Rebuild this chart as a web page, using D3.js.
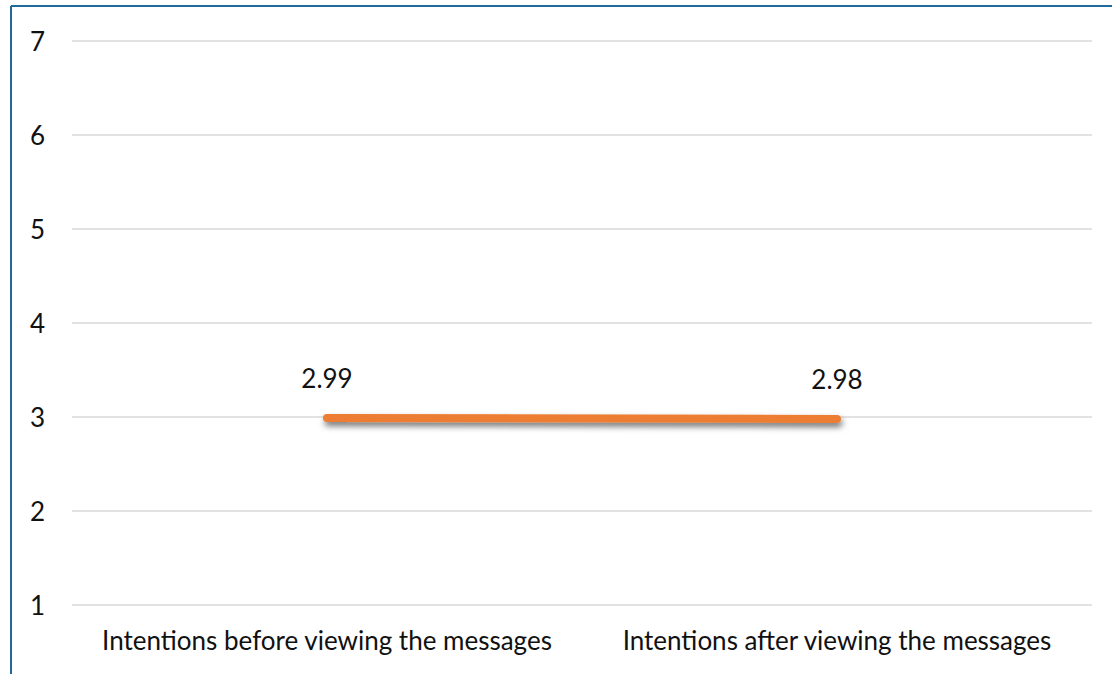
<!DOCTYPE html>
<html>
<head>
<meta charset="utf-8">
<script src="https://cdn.jsdelivr.net/npm/d3@7"></script>
<style>
  html, body { margin: 0; padding: 0; background: #ffffff; }
  svg { display: block; }
</style>
</head>
<body>
<script>
// Mean intention scores before and after viewing the messages
const categories = ["Intentions before viewing the messages", "Intentions after viewing the messages"];
const values = [2.99, 2.98];
const valueLabels = ["2.99", "2.98"];
const yTicks = [1, 2, 3, 4, 5, 6, 7];

const W = 1112, H = 674;
const fontFamily = "Lato, 'Open Sans', sans-serif";
const fontSize = 26;

const svg = d3.select("body").append("svg")
  .attr("width", W).attr("height", H);

// soft drop shadow under the line
const defs = svg.append("defs");
const f = defs.append("filter").attr("id", "lineShadow")
  .attr("filterUnits", "userSpaceOnUse")
  .attr("x", 280).attr("y", 380).attr("width", 620).attr("height", 80);
f.append("feDropShadow")
  .attr("dx", 1.5).attr("dy", 4).attr("stdDeviation", 3)
  .attr("flood-color", "#000").attr("flood-opacity", 0.55);

// outer frame (top and left edges visible)
svg.append("line").attr("x1", 11).attr("x2", W).attr("y1", 6).attr("y2", 6)
  .attr("stroke", "#1f6a9a").attr("stroke-width", 2);
svg.append("line").attr("x1", 11).attr("x2", 11).attr("y1", 6).attr("y2", H)
  .attr("stroke", "#1f6a9a").attr("stroke-width", 2);

const x = d3.scaleBand().domain(categories).range([72, 1092]);
const y = d3.scaleLinear().domain([1, 7]).range([605, 41]);

// horizontal gridlines
svg.append("g").selectAll("line").data(yTicks).join("line")
  .attr("x1", 72).attr("x2", 1092)
  .attr("y1", d => y(d)).attr("y2", d => y(d))
  .attr("stroke", "#d9d9d9").attr("stroke-width", 1.6);

// y tick labels
svg.append("g").selectAll("text").data(yTicks).join("text")
  .attr("x", 45).attr("y", d => y(d))
  .attr("text-anchor", "end").attr("dominant-baseline", "central")
  .attr("font-family", fontFamily).attr("font-size", fontSize).attr("fill", "#111")
  .text(d => d);

// category labels
svg.append("g").selectAll("text").data(categories).join("text")
  .attr("x", d => x(d) + x.bandwidth() / 2).attr("y", 650)
  .attr("text-anchor", "middle")
  .attr("font-family", fontFamily).attr("font-size", fontSize).attr("fill", "#111")
  .text(d => d);

// the series line
const pts = categories.map((c, i) => [x(c) + x.bandwidth() / 2, y(values[i])]);
svg.append("path")
  .attr("d", d3.line()(pts))
  .attr("fill", "none").attr("stroke", "#ed7d31").attr("stroke-width", 8)
  .attr("stroke-linecap", "round")
  .attr("filter", "url(#lineShadow)");

// value labels above points
svg.append("g").selectAll("text").data(categories).join("text")
  .attr("x", d => x(d) + x.bandwidth() / 2)
  .attr("y", (d, i) => y(values[i]) - 30)
  .attr("text-anchor", "middle")
  .attr("font-family", fontFamily).attr("font-size", fontSize).attr("fill", "#111")
  .text((d, i) => valueLabels[i]);
</script>
</body>
</html>
